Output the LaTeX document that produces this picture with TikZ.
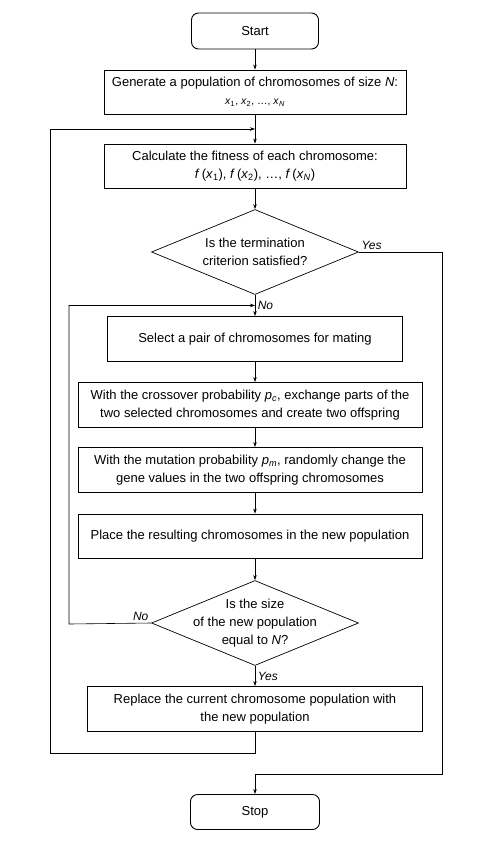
\documentclass[tikz,border=0pt]{standalone}
\usepackage{fontspec}
\setmainfont{Liberation Sans}
\usetikzlibrary{shapes.geometric,arrows.meta,calc}
\newcommand{\sv}[2]{\textit{#1}\textsubscript{#2}}
\begin{document}
\begin{tikzpicture}[x=1pt, y=1pt, font=\fontsize{13}{18}\selectfont, line width=0.6pt,
    >={Stealth[length=5pt,width=3.5pt]},
    terminal/.style={rectangle, rounded corners=7pt, draw, line width=0.9pt, minimum width=127pt, minimum height=36pt},
    process/.style={rectangle, draw, line width=0.9pt, minimum width=300pt, minimum height=44pt, align=center},
    decision/.style={diamond, draw, line width=0.7pt, minimum width=207pt, minimum height=85pt, inner sep=0pt},
    answer/.style={font=\fontsize{12}{14}\selectfont\itshape, inner sep=2.5pt}]

    \useasboundingbox (0,0) rectangle (478,-841);

    \node[terminal] (start) at (255,-31) {Start};
    \node[process, below of=start, node distance=61pt, minimum width=302pt] (gen) {Generate a population of chromosomes of size \textit{N}:\\{\fontsize{10.5}{12}\selectfont \sv{x}{1},\ \sv{x}{2},\ \ldots,\ \sv{x}{\textit{N}}}};
    \node[process, below of=gen, node distance=74pt, minimum width=302pt] (calc) {Calculate the fitness of each chromosome:\\\textit{f}\,(\sv{x}{1}), \textit{f}\,(\sv{x}{2}), \ldots, \textit{f}\,(\sv{x}{\textit{N}})};
    \node[decision, below of=calc, node distance=86pt, label={[align=center]center:{Is the termination\\criterion satisfied?}}] (dec1) {};
    \node[process, below of=dec1, node distance=87pt, minimum width=295pt, minimum height=45pt] (select) {Select a pair of chromosomes for mating};
    \node[process, below of=select, node distance=66pt, xshift=-5pt, minimum width=344pt, minimum height=45pt] (cross) {With the crossover probability \sv{p}{\textit{c}}, exchange parts of the\\two selected chromosomes and create two offspring};
    \node[process, below of=cross, node distance=65pt, minimum width=344pt, minimum height=45pt] (mut) {With the mutation probability \sv{p}{\textit{m}}, randomly change the\\gene values in the two offspring chromosomes};
    \node[process, below of=mut, node distance=66pt, minimum width=344pt] (place) {Place the resulting chromosomes in the new population};
    \node[decision, below of=place, node distance=87pt, xshift=5pt, label={[align=center]center:{Is the size\\of the new population\\equal to \textit{N}?}}] (dec2) {};
    \node[process, below of=dec2, node distance=86pt, minimum width=335pt, minimum height=45pt] (replace) {Replace the current chromosome population with\\the new population};
    \node[terminal, below of=replace, node distance=103pt, minimum width=129pt, minimum height=35pt] (stop) {Stop};

    \coordinate (join1) at ($(gen.south)!0.5!(calc.north)$);
    \coordinate (join2) at ($(dec1.south)!0.5!(select.north)$);
    \coordinate (outerleft) at (50,-753);
    \coordinate (innerleft) at (69,-624);
    \coordinate (outerright) at (442,-774);

    \draw[->] (start) -- (gen);
    \draw[->] (gen) -- (calc);
    \draw[->] (calc) -- (dec1);
    \draw[->] (dec1) -- node[answer, right] {No} (select);
    \draw[->] (select) -- (select |- cross.north);
    \draw[->] (cross.south -| select) -- (select |- mut.north);
    \draw[->] (mut.south -| select) -- (select |- place.north);
    \draw[->] (place.south -| dec2) -- (dec2);
    \draw[->] (dec2) -- node[answer, right] {Yes} (replace);
    \draw[->] (dec1.east) node[answer, above right] {Yes} -| (outerright) -| (stop.north);
    \draw[->] (dec2.west) node[answer, above left] {No} -- (innerleft) |- (join2);
    \draw[->] (replace.south) |- (outerleft) |- (join1);

\end{tikzpicture}
\end{document}
